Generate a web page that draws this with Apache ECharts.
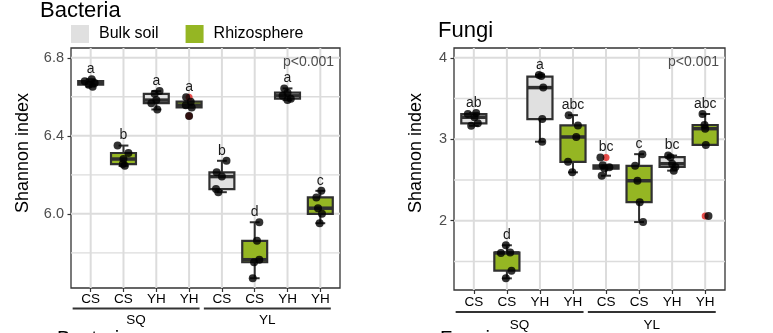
<!DOCTYPE html>
<html><head><meta charset="utf-8">
<script src="https://cdn.jsdelivr.net/npm/echarts@6/dist/echarts.min.js"></script>
<style>html,body{margin:0;padding:0;background:#fff}#c{width:773px;height:333px}</style>
</head><body><div id="c"></div>
<script>
// ---------- data ----------
const categories = ['CS','CS','YH','YH','CS','CS','YH','YH'];
const soilType = ['Bulk soil','Rhizosphere','Bulk soil','Rhizosphere','Bulk soil','Rhizosphere','Bulk soil','Rhizosphere'];
const groups = ['SQ','YL'];
const groupMembers = [[1,4],[5,8]];
const pTexts = ['p<0.001','p<0.001'];

// Bacteria: box stats [low whisker, Q1, median, Q3, high whisker]
const bacStats = [
  [6.652, 6.662, 6.670, 6.680, 6.690],
  [6.246, 6.255, 6.281, 6.312, 6.350],
  [6.535, 6.567, 6.583, 6.615, 6.629],
  [6.545, 6.545, 6.557, 6.575, 6.575],
  [6.111, 6.127, 6.191, 6.213, 6.272],
  [5.670, 5.752, 5.765, 5.862, 5.957],
  [6.583, 6.590, 6.605, 6.621, 6.643],
  [5.952, 6.000, 6.029, 6.084, 6.118]
];
const bacPoints = [
  [6.690, 6.680, 6.670, 6.662, 6.652],
  [6.350, 6.312, 6.281, 6.255, 6.246],
  [6.629, 6.615, 6.583, 6.567, 6.535],
  [6.598, 6.575, 6.557, 6.545, 6.501],
  [6.272, 6.213, 6.191, 6.127, 6.111],
  [5.957, 5.862, 5.765, 5.752, 5.670],
  [6.643, 6.621, 6.605, 6.590, 6.583],
  [6.118, 6.084, 6.029, 6.000, 5.952]
];
const bacJitter = [
  [0.03, -0.18, 0.12, -0.06, 0.06],
  [-0.18, 0.15, 0.00, -0.02, 0.04],
  [0.10, -0.05, 0.00, -0.15, 0.03],
  [-0.09, 0.05, -0.10, 0.08, 0.00],
  [0.14, -0.16, 0.00, -0.18, -0.11],
  [0.14, 0.07, 0.14, -0.02, -0.06],
  [-0.10, 0.00, -0.15, 0.10, 0.00],
  [0.03, -0.12, -0.07, 0.05, -0.02]
];
const bacOutliers = [[], [], [], [6.598, 6.501], [], [], [], []];
const bacLetters = ['a','b','a','a','b','d','a','c'];
const bacYTicks = [6.0, 6.4, 6.8];
const bacYMinor = [5.8, 6.2, 6.6];
const bacYRange = [5.62, 6.85];

// Fungi
const funStats = [
  [3.165, 3.195, 3.270, 3.309, 3.321],
  [1.293, 1.387, 1.605, 1.610, 1.699],
  [2.970, 3.248, 3.634, 3.768, 3.790],
  [2.594, 2.723, 3.028, 3.170, 3.296],
  [2.553, 2.640, 2.655, 2.680, 2.680],
  [1.984, 2.228, 2.491, 2.674, 2.817],
  [2.615, 2.660, 2.700, 2.780, 2.800],
  [2.930, 2.930, 3.130, 3.175, 3.310]
];
const funPoints = [
  [3.309, 3.321, 3.270, 3.195, 3.165],
  [1.699, 1.610, 1.605, 1.387, 1.293],
  [3.790, 3.775, 3.634, 3.248, 2.970],
  [3.296, 3.170, 3.028, 2.723, 2.594],
  [2.777, 2.680, 2.655, 2.640, 2.553],
  [2.817, 2.674, 2.491, 2.228, 1.984],
  [2.800, 2.780, 2.700, 2.660, 2.615],
  [3.310, 3.175, 3.130, 2.930, 2.057]
];
const funJitter = [
  [-0.18, 0.07, 0.02, 0.12, -0.08],
  [-0.03, 0.10, -0.18, 0.14, -0.03],
  [-0.03, 0.04, 0.10, 0.07, 0.07],
  [-0.13, 0.15, 0.10, -0.15, -0.02],
  [-0.17, -0.10, 0.10, -0.05, -0.13],
  [0.10, -0.12, -0.05, 0.02, 0.12],
  [-0.12, -0.05, 0.00, 0.10, 0.05],
  [-0.08, -0.02, 0.00, 0.02, 0.10]
];
const funOutliers = [[], [], [], [], [2.777], [], [], [2.057]];
const funLetters = ['ab','d','a','abc','bc','c','bc','abc'];
const funYTicks = [2, 3, 4];
const funYMinor = [1.5, 2.5, 3.5];
const funYRange = [1.15, 4.12];

// ---------- styles ----------
const FONT = "'Liberation Sans', Arial, sans-serif";
const FILL = {'Bulk soil': '#e0e0e0', 'Rhizosphere': '#95b623'};
const EDGE = '#303030';
const GRIDC = '#dcdcdc';
const XR = [0.4, 8.6];
const xCats = categories.map((c, i) => i + 1);

const panels = [
  {stats: bacStats, pts: bacPoints, jit: bacJitter, out: bacOutliers, letters: bacLetters,
   yt: bacYTicks, ym: bacYMinor, yr: bacYRange, fmt: v => v.toFixed(1),
   grid: {left: 71, top: 48, width: 269, height: 240}, nameGap: 39, namePad: 30,
   lineOff: 20.5, groupOff: 32, labMargin: 4.5},
  {stats: funStats, pts: funPoints, jit: funJitter, out: funOutliers, letters: funLetters,
   yt: funYTicks, ym: funYMinor, yr: funYRange, fmt: v => String(Math.round(v)),
   grid: {left: 454, top: 48, width: 271, height: 242}, nameGap: 29, namePad: 32,
   lineOff: 22, groupOff: 35, labMargin: 5.5}
];

const grids = [], xAxes = [], yAxes = [], series = [];
panels.forEach((P, k) => {
  grids.push(Object.assign({show: true, borderColor: '#333', borderWidth: 1.3, backgroundColor: 'transparent'}, P.grid));
  xAxes.push({
    gridIndex: k, type: 'value', min: XR[0], max: XR[1],
    axisLine: {show: false},
    axisTick: {show: true, customValues: xCats, length: 4, lineStyle: {color: '#333', width: 1.2}},
    axisLabel: {show: true, customValues: xCats, formatter: v => categories[Math.round(v) - 1],
      color: '#000', fontSize: 13.5, margin: P.labMargin, fontFamily: FONT},
    splitLine: {show: false}
  });
  yAxes.push({
    gridIndex: k, type: 'value', min: P.yr[0], max: P.yr[1],
    axisLine: {show: false},
    axisTick: {show: true, customValues: P.yt, length: 3.5, lineStyle: {color: '#333', width: 1.2}},
    axisLabel: {show: true, customValues: P.yt, formatter: P.fmt, color: '#4d4d4d', fontSize: 14.5, margin: 7, fontFamily: FONT},
    splitLine: {show: false},
    name: 'Shannon index', nameLocation: 'middle', nameGap: P.nameGap,
    nameTextStyle: {fontSize: 18, color: '#000', fontFamily: FONT, padding: [0, 0, 0, P.namePad]}
  });

  // grid lines: one custom item per panel draws all of them
  series.push({
    type: 'custom', xAxisIndex: k, yAxisIndex: k, z: 3, silent: true, clip: false,
    data: [[1, P.yr[0]]],
    renderItem(params, api) {
      const cs = params.coordSys;
      const children = [];
      xCats.forEach(v => {
        const px = api.coord([v, P.yr[0]])[0];
        children.push({type: 'line', shape: {x1: px, y1: cs.y, x2: px, y2: cs.y + cs.height},
          style: {stroke: GRIDC, lineWidth: 2}});
      });
      P.ym.forEach(v => {
        const py = api.coord([1, v])[1];
        children.push({type: 'line', shape: {x1: cs.x, y1: py, x2: cs.x + cs.width, y2: py},
          style: {stroke: GRIDC, lineWidth: 1.4}});
      });
      P.yt.forEach(v => {
        const py = api.coord([1, v])[1];
        children.push({type: 'line', shape: {x1: cs.x, y1: py, x2: cs.x + cs.width, y2: py},
          style: {stroke: GRIDC, lineWidth: 2}});
      });
      return {type: 'group', children};
    }
  });

  // boxes
  ['Bulk soil', 'Rhizosphere'].forEach(name => {
    const data = [];
    P.stats.forEach((s, i) => { if (soilType[i] === name) data.push([i + 1].concat(s)); });
    series.push({
      type: 'custom', name, xAxisIndex: k, yAxisIndex: k, z: 4, silent: true,
      itemStyle: {color: FILL[name]},
      encode: {x: 0, y: [1, 2, 3, 4, 5]},
      data,
      renderItem(params, api) {
        const x = api.value(0);
        const yv = j => api.coord([x, api.value(j)])[1];
        const xc = api.coord([x, P.yr[0]])[0];
        const xl = api.coord([x - 0.38, P.yr[0]])[0], xr = api.coord([x + 0.38, P.yr[0]])[0];
        const cl = api.coord([x - 0.15, P.yr[0]])[0], cr = api.coord([x + 0.15, P.yr[0]])[0];
        const yLow = yv(1), yQ1 = yv(2), yMed = yv(3), yQ3 = yv(4), yHigh = yv(5);
        const st = {stroke: EDGE, lineWidth: 2};
        return {type: 'group', children: [
          {type: 'line', shape: {x1: xc, y1: yHigh, x2: xc, y2: yQ3}, style: st},
          {type: 'line', shape: {x1: xc, y1: yQ1, x2: xc, y2: yLow}, style: st},
          {type: 'line', shape: {x1: cl, y1: yHigh, x2: cr, y2: yHigh}, style: st},
          {type: 'line', shape: {x1: cl, y1: yLow, x2: cr, y2: yLow}, style: st},
          {type: 'rect', shape: {x: xl, y: yQ3, width: xr - xl, height: yQ1 - yQ3},
           style: {fill: FILL[name], stroke: EDGE, lineWidth: 2.2}},
          {type: 'line', shape: {x1: xl, y1: yMed, x2: xr, y2: yMed}, style: {stroke: EDGE, lineWidth: 3.5}}
        ]};
      }
    });
  });

  // outliers (red)
  const od = [];
  P.out.forEach((arr, i) => arr.forEach(v => od.push([i + 1, v])));
  series.push({type: 'scatter', xAxisIndex: k, yAxisIndex: k, z: 5, silent: true, symbolSize: 7,
    itemStyle: {color: '#e3231f'}, data: od});

  // jittered points (black)
  const pd = [];
  P.pts.forEach((arr, i) => arr.forEach((v, j) => pd.push([i + 1 + P.jit[i][j], v])));
  series.push({type: 'scatter', xAxisIndex: k, yAxisIndex: k, z: 6, silent: true, symbolSize: 8,
    itemStyle: {color: '#000'}, data: pd});

  // letters
  series.push({
    type: 'custom', xAxisIndex: k, yAxisIndex: k, z: 7, silent: true,
    data: P.pts.map((arr, i) => [i + 1, Math.max.apply(null, arr)]),
    renderItem(params, api) {
      const p = api.coord([api.value(0), api.value(1)]);
      return {type: 'text', x: p[0], y: p[1] - 10,
        style: {text: P.letters[params.dataIndex], fill: '#1a1a1a', font: '14px ' + FONT, align: 'center', verticalAlign: 'middle'}};
    }
  });

  // group underline + labels
  series.push({
    type: 'custom', xAxisIndex: k, yAxisIndex: k, z: 7, silent: true, clip: false,
    data: groupMembers.map(m => [m[0], m[1]]),
    renderItem(params, api) {
      const cs = params.coordSys;
      const x1 = api.coord([api.value(0) - 0.55, P.yr[0]])[0];
      const x2 = api.coord([api.value(1) + 0.32, P.yr[0]])[0];
      const yb = cs.y + cs.height;
      return {type: 'group', children: [
        {type: 'line', shape: {x1, y1: yb + P.lineOff, x2, y2: yb + P.lineOff}, style: {stroke: '#333', lineWidth: 2}},
        {type: 'text', x: (x1 + x2) / 2, y: yb + P.groupOff,
         style: {text: groups[params.dataIndex], fill: '#000', font: '13.5px ' + FONT, align: 'center', verticalAlign: 'middle'}}
      ]};
    }
  });

  // p-value text
  series.push({
    type: 'custom', xAxisIndex: k, yAxisIndex: k, z: 7, silent: true,
    data: [[XR[1], P.yr[1]]],
    renderItem(params, api) {
      const p = api.coord([api.value(0), api.value(1)]);
      return {type: 'text', x: p[0] - 6, y: p[1] + 14,
        style: {text: pTexts[k], fill: '#4d4d4d', font: '14px ' + FONT, align: 'right', verticalAlign: 'middle'}};
    }
  });
});

const chart = echarts.init(document.getElementById('c'), null, {renderer: 'canvas'});
chart.setOption({
  animation: false,
  backgroundColor: '#fff',
  textStyle: {fontFamily: FONT},
  title: [
    {text: 'Bacteria', left: 40, top: 0, padding: 0, textStyle: {fontSize: 22, fontWeight: 'normal', color: '#000', fontFamily: FONT}},
    {text: 'Fungi', left: 438, top: 20, padding: 0, textStyle: {fontSize: 22, fontWeight: 'normal', color: '#000', fontFamily: FONT}},
    {text: 'Bacteria', left: 57, top: 329, padding: 0, textStyle: {fontSize: 20, fontWeight: 'normal', color: '#000', fontFamily: FONT}},
    {text: 'Fungi', left: 440, top: 329, padding: 0, textStyle: {fontSize: 20, fontWeight: 'normal', color: '#000', fontFamily: FONT}}
  ],
  legend: {
    left: 71, top: 25, padding: 0, itemWidth: 18, itemHeight: 18, itemGap: 27, icon: 'rect',
    selectedMode: false,
    textStyle: {fontSize: 16, color: '#000', fontFamily: FONT, padding: [0, 0, 0, 5]},
    data: [
      {name: 'Bulk soil', itemStyle: {color: FILL['Bulk soil'], borderWidth: 0}},
      {name: 'Rhizosphere', itemStyle: {color: FILL['Rhizosphere'], borderWidth: 0}}
    ]
  },
  grid: grids, xAxis: xAxes, yAxis: yAxes, series
});
</script></body></html>
